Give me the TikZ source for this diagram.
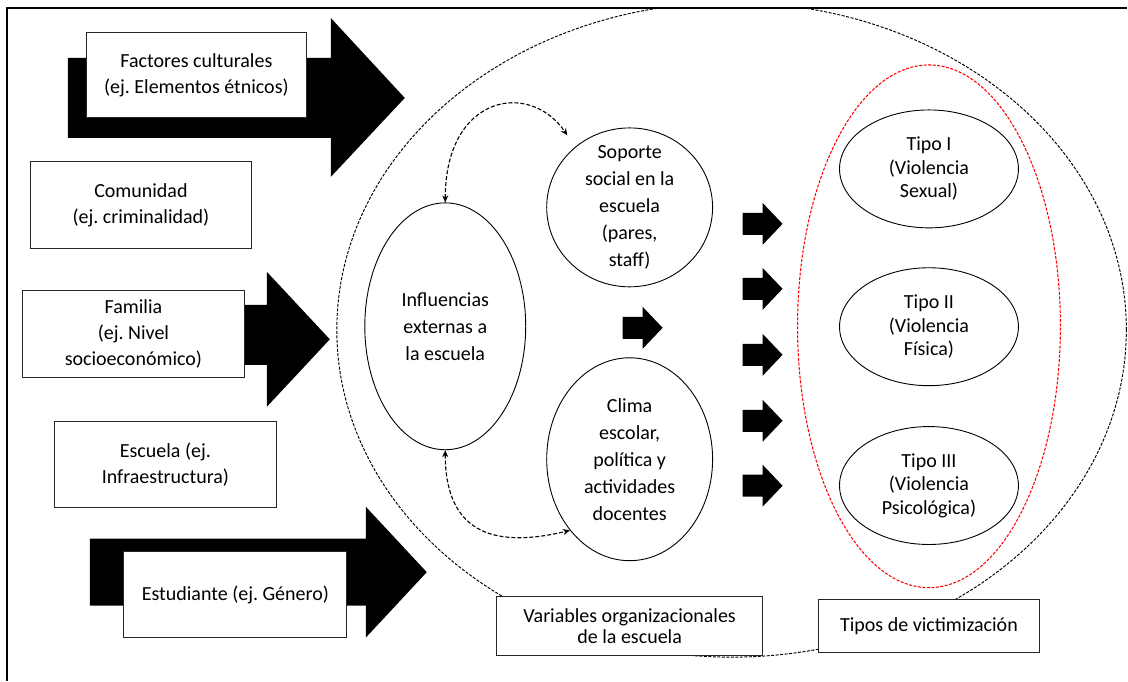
\documentclass[tikz,border=0pt]{standalone}
\usepackage{fontspec}
\setmainfont{Carlito}
\frenchspacing
\usetikzlibrary{arrows.meta,shapes.geometric,positioning}
\definecolor{vicline}{HTML}{262626}
\definecolor{vicred}{HTML}{FF0000}
\tikzset{%
  vicbox/.style={%
    draw=vicline,
    line width=0.9pt,
    fill=white,
    inner sep=0pt,
    align=center,
    font=\fontsize{20}{26}\selectfont
  },
  vicoval/.style={%
    ellipse,
    draw=black,
    line width=0.9pt,
    fill=white,
    inner sep=-25pt,
    align=center,
    font=\fontsize{20}{27}\selectfont
  },
  victipo/.style={%
    vicoval,
    minimum width=179pt,
    minimum height=118pt,
    font=\fontsize{20}{23.5}\selectfont
  },
  vicring/.style={ellipse,draw=black,line width=0.95pt,dash pattern=on 3pt off 1.5pt},
  vicblock/.style={fill=black},
  vicloop/.style={{Stealth[length=7pt,width=6pt]}-{Stealth[length=7pt,width=6pt]},line width=1.1pt,dash pattern=on 4pt off 2pt}
}

\begin{document}
\begin{tikzpicture}[x=1pt,y=-1pt]
    \fill[white] (0,0) rectangle (1128,681);
    \draw[line width=1.3pt] (7,681) -- (7,8) -- (1128,8);

    % large dashed rings
    \begin{scope}
      \clip (7,8) rectangle (1128,681);
      \node[vicring,minimum width=790pt,minimum height=655pt] (organizacion) at (732,330) {};
    \end{scope}
    \node[vicring,draw=vicred,line width=1.05pt,minimum width=263pt,minimum height=523pt] (victimas) at (929.5,326.5) {};

    % block arrows
    \fill[vicblock] (68,58) -- (331,58) -- (331,18) -- (405,98) -- (331,177) -- (331,138) -- (68,138) -- cycle;
    \fill[vicblock] (200,305) -- (267,305) -- (267,272) -- (330,339.5) -- (267,407) -- (267,365) -- (200,365) -- cycle;
    \fill[vicblock] (90,539) -- (366,539) -- (366,507) -- (427,572.5) -- (366,638) -- (366,606) -- (90,606) -- cycle;
    \fill[vicblock] (623,317) -- (643,317) -- (643,307) -- (663,328) -- (643,349) -- (643,339) -- (623,339) -- cycle;
    \foreach \y in {224,289,355,421,486}
      \fill[vicblock] (743,\y-11) -- (763,\y-11) -- (763,\y-21) -- (783,\y) -- (763,\y+21) -- (763,\y+11) -- (743,\y+11) -- cycle;

    % factors
    \node[vicbox,minimum width=221pt,minimum height=86pt] (cultura) at (196.5,75) {Factores culturales\\(ej. Elementos étnicos)};
    \node[vicbox,minimum width=222pt,minimum height=87pt] (comunidad) at (141,205.5) {Comunidad\\(ej. criminalidad)};
    \node[vicbox,minimum width=223pt,minimum height=87pt] (familia) at (133.5,334.5) {Familia\\(ej. Nivel\\socioeconómico)};
    \node[vicbox,minimum width=223pt,minimum height=86pt] (escuela) at (165.5,465) {Escuela (ej.\\Infraestructura)};
    \node[vicbox,minimum width=223pt,minimum height=86pt] (estudiante) at (235.5,595) {Estudiante (ej. Género)};

    % school variables
    \node[vicoval,minimum width=161pt,minimum height=247pt] (influencias) at (445.5,326.5) {Influencias\\externas a\\la escuela};
    \node[vicoval,minimum width=166pt,minimum height=159pt] (soporte) at (630,207.5) {Soporte\\social en la\\escuela\\(pares,\\staff)};
    \node[vicoval,minimum width=166pt,minimum height=203pt] (clima) at (630,459.5) {Clima\\escolar,\\política y\\actividades\\docentes};

    % victimization
    \node[victipo] (tipoI) at (929.5,169) {Tipo I\\(Violencia\\Sexual)};
    \node[victipo,below=39pt of tipoI] (tipoII) {Tipo II\\(Violencia\\Física)};
    \node[victipo,below=40pt of tipoII] (tipoIII) {Tipo III\\(Violencia\\Psicológica)};

    \node[vicbox,minimum width=266pt,minimum height=59pt,font=\fontsize{20}{21}\selectfont] (variables) at (630,626.5) {Variables organizacionales\\de la escuela};
    \node[vicbox,minimum width=221pt,minimum height=53pt] (tipos) at (929.5,626.5) {Tipos de victimización};

    \draw[vicloop,shorten >=14pt] (influencias.north) .. controls (445.5,95) and (530,80) .. (soporte.132);
    \draw[vicloop] (influencias.south) .. controls (445.5,530) and (490,550) .. (clima.230);
  \end{tikzpicture}
\end{document}
